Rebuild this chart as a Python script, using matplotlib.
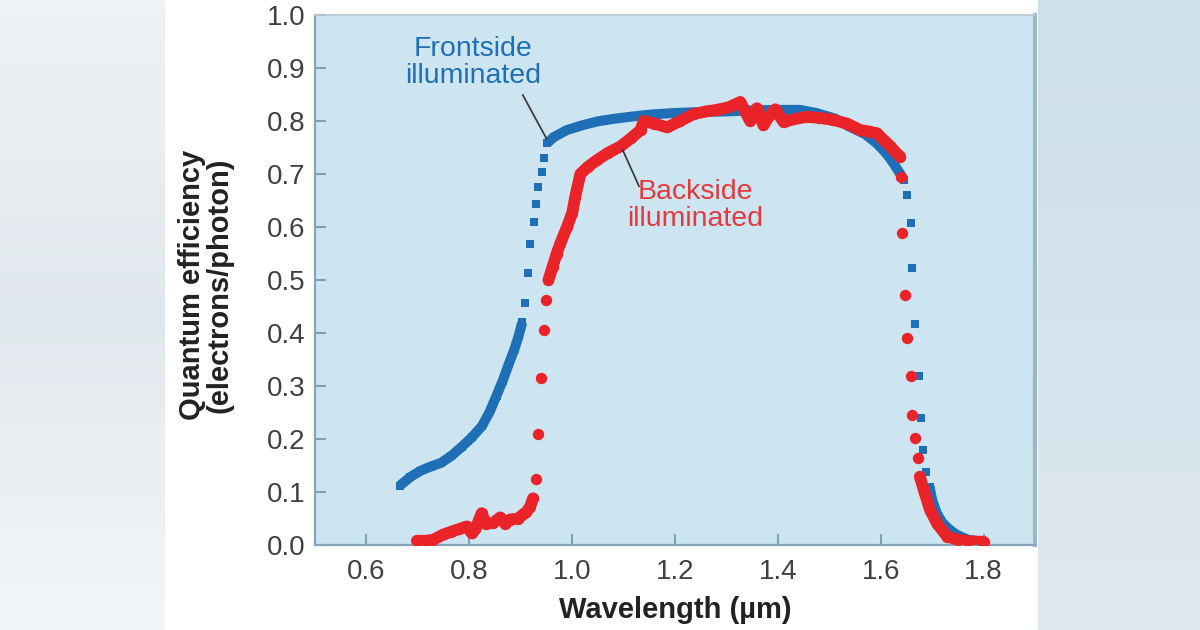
import numpy as np
import matplotlib.pyplot as plt

# --- data (wavelength in um, QE) ---
# frontside illuminated (blue squares)
front_lo_wl = [0.665, 0.685, 0.705, 0.725, 0.745, 0.765, 0.785, 0.805, 0.825,
               0.840, 0.853, 0.865, 0.877, 0.888, 0.896, 0.903]
front_lo_qe = [0.112, 0.128, 0.140, 0.148, 0.155, 0.168, 0.185, 0.203, 0.225,
               0.252, 0.282, 0.310, 0.342, 0.370, 0.395, 0.420]
front_rise_wl = [0.909, 0.915, 0.918, 0.925, 0.930, 0.934, 0.941, 0.945]
front_rise_qe = [0.456, 0.513, 0.568, 0.610, 0.643, 0.675, 0.704, 0.731]
front_top_wl = [0.951, 0.965, 0.990, 1.020, 1.048, 1.080, 1.113, 1.150, 1.197,
                1.250, 1.300, 1.350, 1.400, 1.443, 1.475, 1.510, 1.540, 1.570,
                1.592, 1.610, 1.625, 1.638, 1.645]
front_top_qe = [0.758, 0.770, 0.783, 0.792, 0.799, 0.804, 0.808, 0.812, 0.815,
                0.817, 0.818, 0.820, 0.821, 0.821, 0.815, 0.805, 0.789, 0.775,
                0.758, 0.740, 0.720, 0.700, 0.689]
front_fall_wl = [1.652, 1.658, 1.661, 1.667, 1.674, 1.678, 1.682, 1.688]
front_fall_qe = [0.660, 0.607, 0.522, 0.417, 0.318, 0.239, 0.179, 0.138]
front_tail_wl = [1.695, 1.700, 1.709, 1.720, 1.735, 1.750, 1.770, 1.797]
front_tail_qe = [0.110, 0.085, 0.060, 0.042, 0.028, 0.018, 0.010, 0.006]

# backside illuminated (red circles)
back_lo_wl = [0.698, 0.715, 0.730, 0.750, 0.765, 0.780, 0.795, 0.805, 0.812,
              0.818, 0.824, 0.832, 0.847, 0.860, 0.870, 0.879, 0.895, 0.905,
              0.911, 0.918, 0.924]
back_lo_qe = [0.008, 0.008, 0.010, 0.020, 0.025, 0.030, 0.035, 0.022, 0.030,
              0.045, 0.060, 0.040, 0.042, 0.052, 0.040, 0.048, 0.050, 0.058,
              0.062, 0.072, 0.088]
back_rise_wl = [0.930, 0.933, 0.940, 0.946, 0.950]
back_rise_qe = [0.124, 0.209, 0.316, 0.406, 0.462]
back_top_wl = [0.954, 0.962, 0.970, 0.977, 0.990, 1.000, 1.006, 1.016, 1.030,
               1.048, 1.070, 1.094, 1.115, 1.133, 1.139, 1.160, 1.185, 1.210,
               1.236, 1.260, 1.281, 1.305, 1.327, 1.338, 1.346, 1.352, 1.359,
               1.366, 1.372, 1.385, 1.395, 1.411, 1.430, 1.456, 1.480, 1.508,
               1.535, 1.560, 1.578, 1.592, 1.605, 1.619, 1.630, 1.638]
back_top_qe = [0.500, 0.525, 0.550, 0.569, 0.600, 0.626, 0.657, 0.700, 0.713,
               0.726, 0.740, 0.752, 0.768, 0.783, 0.800, 0.795, 0.788, 0.800,
               0.813, 0.818, 0.821, 0.826, 0.836, 0.815, 0.800, 0.810, 0.824,
               0.806, 0.792, 0.812, 0.822, 0.798, 0.803, 0.808, 0.806, 0.802,
               0.795, 0.783, 0.780, 0.777, 0.765, 0.752, 0.740, 0.733]
back_fall_wl = [1.639, 1.641, 1.648, 1.652, 1.658, 1.661, 1.667, 1.672]
back_fall_qe = [0.695, 0.588, 0.472, 0.390, 0.318, 0.245, 0.201, 0.164]
back_tail_wl = [1.676, 1.685, 1.696, 1.710, 1.729, 1.750, 1.770, 1.800]
back_tail_qe = [0.129, 0.100, 0.066, 0.040, 0.016, 0.010, 0.007, 0.006]

x_ticks = [0.6, 0.8, 1.0, 1.2, 1.4, 1.6, 1.8]
y_ticks = [0.0, 0.1, 0.2, 0.3, 0.4, 0.5, 0.6, 0.7, 0.8, 0.9, 1.0]

BLUE = '#1f6fb6'
RED = '#ea2328'

plt.rcParams['font.family'] = ['Liberation Sans', 'DejaVu Sans']

fig = plt.figure(figsize=(12, 6.3), dpi=100, facecolor='white')

# page background strips left / right of the white panel
def strip(rect, c_top, c_mid, c_bot):
    bg = fig.add_axes(rect, zorder=-5)
    t = np.linspace(0, 1, 64)[:, None]
    cols = [np.array(plt.matplotlib.colors.to_rgb(c)) for c in (c_top, c_mid, c_bot)]
    w = np.clip(1 - 2 * np.abs(t - 0.5), 0, 1)
    edge = np.where(t < 0.5, 1, 0)
    img = (w * cols[1] + (1 - w) * (edge * cols[0] + (1 - edge) * cols[2]))
    bg.imshow(img[:, None, :], aspect='auto', extent=[0, 1, 0, 1])
    bg.set_axis_off()

strip([0, 0, 165 / 1200, 1], '#eef2f5', '#e1e8ed', '#f3f6f8')
strip([1038 / 1200, 0, 162 / 1200, 1], '#cde0ec', '#d4e3ed', '#e0e8ef')

ax = fig.add_axes([315 / 1200, 1 - 545 / 630, 720 / 1200, 530 / 630])
ax.set_facecolor('#cde5f1')

# frontside: dense parts drawn as a band, steep parts as single squares
for wl, qe in [(front_lo_wl, front_lo_qe), (front_top_wl, front_top_qe),
               (front_tail_wl, front_tail_qe)]:
    ax.plot(wl, qe, '-', color=BLUE, lw=7.2, solid_capstyle='butt', zorder=3)
for wl, qe in [(front_lo_wl, front_lo_qe), (front_rise_wl, front_rise_qe),
               (front_top_wl, front_top_qe), (front_fall_wl, front_fall_qe),
               (front_tail_wl, front_tail_qe)]:
    ax.plot(wl, qe, 's', color=BLUE, ms=6.3, mew=0, zorder=3)

# backside
for wl, qe in [(back_lo_wl, back_lo_qe), (back_top_wl, back_top_qe),
               (back_tail_wl, back_tail_qe)]:
    ax.plot(wl, qe, '-', color=RED, lw=8.5, solid_capstyle='round',
            solid_joinstyle='round', zorder=4)
for wl, qe in [(back_lo_wl, back_lo_qe), (back_rise_wl, back_rise_qe),
               (back_top_wl, back_top_qe), (back_fall_wl, back_fall_qe),
               (back_tail_wl, back_tail_qe)]:
    ax.plot(wl, qe, 'o', color=RED, ms=8.2, mew=0, zorder=4)

ax.set_xlim(0.5, 1.9)
ax.set_ylim(0.0, 1.0)
ax.set_xticks(x_ticks)
ax.set_xticklabels([f'{v:.1f}' for v in x_ticks])
ax.set_yticks(y_ticks)
ax.set_yticklabels([f'{v:.1f}' for v in y_ticks])

ax.tick_params(axis='both', direction='in', length=8, width=1.5,
               color='#7f9fb4', labelsize=20, labelcolor='#404040')
ax.tick_params(axis='x', pad=10)
ax.tick_params(axis='y', pad=7)

for side in ['left', 'bottom']:
    ax.spines[side].set_color('#86a5b9')
    ax.spines[side].set_linewidth(1.6)
ax.spines['right'].set_color('#9db6c6')
ax.spines['right'].set_linewidth(3)
ax.spines['top'].set_color('#b8cad6')
ax.spines['top'].set_linewidth(1.2)

ax.set_xlabel('Wavelength (\u00b5m)', fontsize=21, fontweight='bold',
              color='#222222', labelpad=8)
ax.set_ylabel('Quantum efficiency\n(electrons/photon)', fontsize=21,
              fontweight='bold', color='#222222', linespacing=0.95, va='center')
ax.yaxis.set_label_coords(-0.152, 0.49)

# annotations
ax.text(0.807, 0.91, 'Frontside\nilluminated', color=BLUE, fontsize=20.5,
        ha='center', va='center', linespacing=1.05)
ax.plot([0.904, 0.950], [0.849, 0.767], color='#333333', lw=1.2, zorder=5)

ax.text(1.24, 0.64, 'Backside\nilluminated', color='#e23b3d', fontsize=20.5,
        ha='center', va='center', linespacing=1.05)
ax.plot([1.098, 1.130], [0.746, 0.677], color='#333333', lw=1.2, zorder=5)

fig.savefig('out.png', dpi=100, facecolor=fig.get_facecolor())
